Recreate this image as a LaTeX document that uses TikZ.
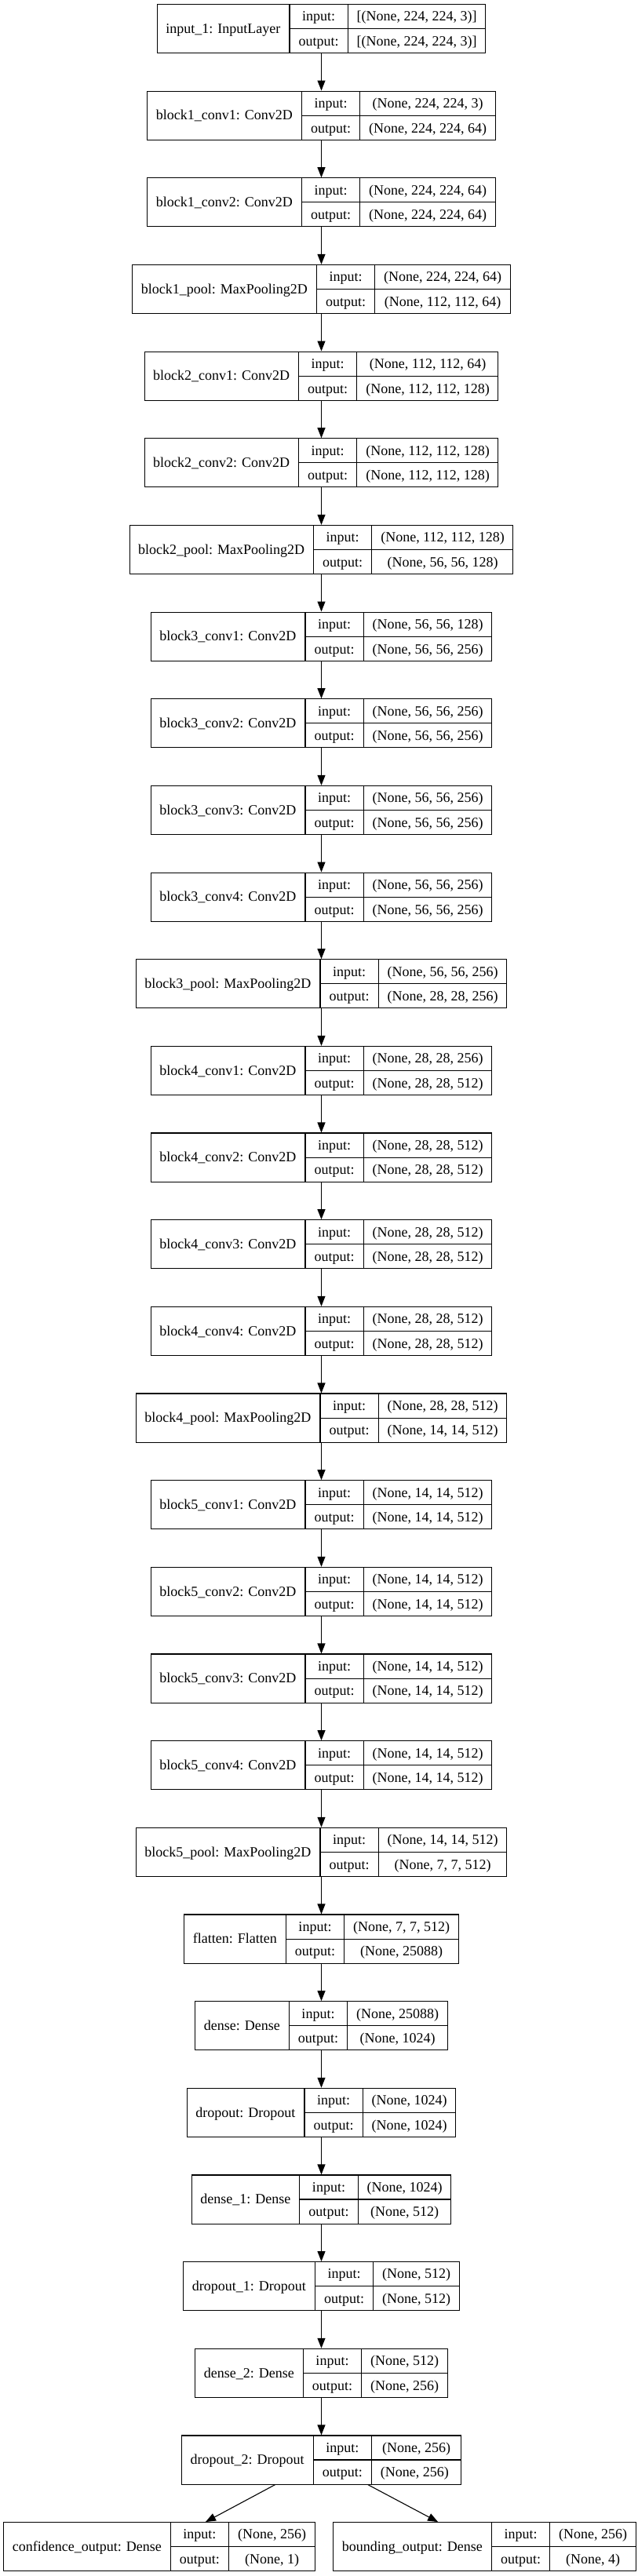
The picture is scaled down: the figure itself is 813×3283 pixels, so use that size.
\documentclass[tikz,border=0pt]{standalone}
\usepackage{fontspec}
\setmainfont{Liberation Serif}
\usepackage{array}
\usetikzlibrary{arrows.meta, positioning}

\setlength{\arrayrulewidth}{1.1pt}
\setlength{\tabcolsep}{11pt}

% One record: name | input:/output: | shapes
\newcommand{\layertab}[3]{%
	\begin{tabular}{c|@{}c@{}}
		\raisebox{-1.5pt}{#1} &
		\begin{tabular}{c|c}
			input: & #2 \\ \hline
			output: & #3
		\end{tabular}
	\end{tabular}}

\tikzset{
	layerbox/.style={draw, line width=1.1pt, inner sep=0pt, fill=white,
		font=\fontsize{18}{30.5}\selectfont},
	arr/.style={-{Triangle[length=13pt, width=10pt]}, line width=1.1pt}
}

\begin{document}
\begin{tikzpicture}[x=1pt, y=1pt]
	% Parameters
	\def\xc{409.5}
	\def\ytop{36.5}
	\def\pitch{110.66}

	\useasboundingbox (0,0) rectangle (813,-3283);

	% Main column of layers
	\foreach \lname/\shin/\shout [count=\i] in {
		{input\_1: InputLayer}/{[(None, 224, 224, 3)]}/{[(None, 224, 224, 3)]},
		{block1\_conv1: Conv2D}/{(None, 224, 224, 3)}/{(None, 224, 224, 64)},
		{block1\_conv2: Conv2D}/{(None, 224, 224, 64)}/{(None, 224, 224, 64)},
		{block1\_pool: MaxPooling2D}/{(None, 224, 224, 64)}/{(None, 112, 112, 64)},
		{block2\_conv1: Conv2D}/{(None, 112, 112, 64)}/{(None, 112, 112, 128)},
		{block2\_conv2: Conv2D}/{(None, 112, 112, 128)}/{(None, 112, 112, 128)},
		{block2\_pool: MaxPooling2D}/{(None, 112, 112, 128)}/{(None, 56, 56, 128)},
		{block3\_conv1: Conv2D}/{(None, 56, 56, 128)}/{(None, 56, 56, 256)},
		{block3\_conv2: Conv2D}/{(None, 56, 56, 256)}/{(None, 56, 56, 256)},
		{block3\_conv3: Conv2D}/{(None, 56, 56, 256)}/{(None, 56, 56, 256)},
		{block3\_conv4: Conv2D}/{(None, 56, 56, 256)}/{(None, 56, 56, 256)},
		{block3\_pool: MaxPooling2D}/{(None, 56, 56, 256)}/{(None, 28, 28, 256)},
		{block4\_conv1: Conv2D}/{(None, 28, 28, 256)}/{(None, 28, 28, 512)},
		{block4\_conv2: Conv2D}/{(None, 28, 28, 512)}/{(None, 28, 28, 512)},
		{block4\_conv3: Conv2D}/{(None, 28, 28, 512)}/{(None, 28, 28, 512)},
		{block4\_conv4: Conv2D}/{(None, 28, 28, 512)}/{(None, 28, 28, 512)},
		{block4\_pool: MaxPooling2D}/{(None, 28, 28, 512)}/{(None, 14, 14, 512)},
		{block5\_conv1: Conv2D}/{(None, 14, 14, 512)}/{(None, 14, 14, 512)},
		{block5\_conv2: Conv2D}/{(None, 14, 14, 512)}/{(None, 14, 14, 512)},
		{block5\_conv3: Conv2D}/{(None, 14, 14, 512)}/{(None, 14, 14, 512)},
		{block5\_conv4: Conv2D}/{(None, 14, 14, 512)}/{(None, 14, 14, 512)},
		{block5\_pool: MaxPooling2D}/{(None, 14, 14, 512)}/{(None, 7, 7, 512)},
		{flatten: Flatten}/{(None, 7, 7, 512)}/{(None, 25088)},
		{dense: Dense}/{(None, 25088)}/{(None, 1024)},
		{dropout: Dropout}/{(None, 1024)}/{(None, 1024)},
		{dense\_1: Dense}/{(None, 1024)}/{(None, 512)},
		{dropout\_1: Dropout}/{(None, 512)}/{(None, 512)},
		{dense\_2: Dense}/{(None, 512)}/{(None, 256)},
		{dropout\_2: Dropout}/{(None, 256)}/{(None, 256)}
	}
		\node[layerbox] (L\i) at (\xc, {-\ytop-(\i-1)*\pitch}) {\layertab{\lname}{\shin}{\shout}};

	% Output heads
	\node[layerbox] (conf) at (203, {-\ytop-29*\pitch})
		{\layertab{confidence\_output: Dense}{(None, 256)}{(None, 1)}};
	\node[layerbox] (bound) at (617.5, {-\ytop-29*\pitch})
		{\layertab{bounding\_output: Dense}{(None, 256)}{(None, 4)}};

	% Arrows
	\foreach \i [evaluate=\i as \j using int(\i+1)] in {1,...,28}
		\draw[arr] (L\i) -- (L\j);
	\draw[arr] (L29) -- (conf);
	\draw[arr] (L29) -- (bound);

\end{tikzpicture}
\end{document}
